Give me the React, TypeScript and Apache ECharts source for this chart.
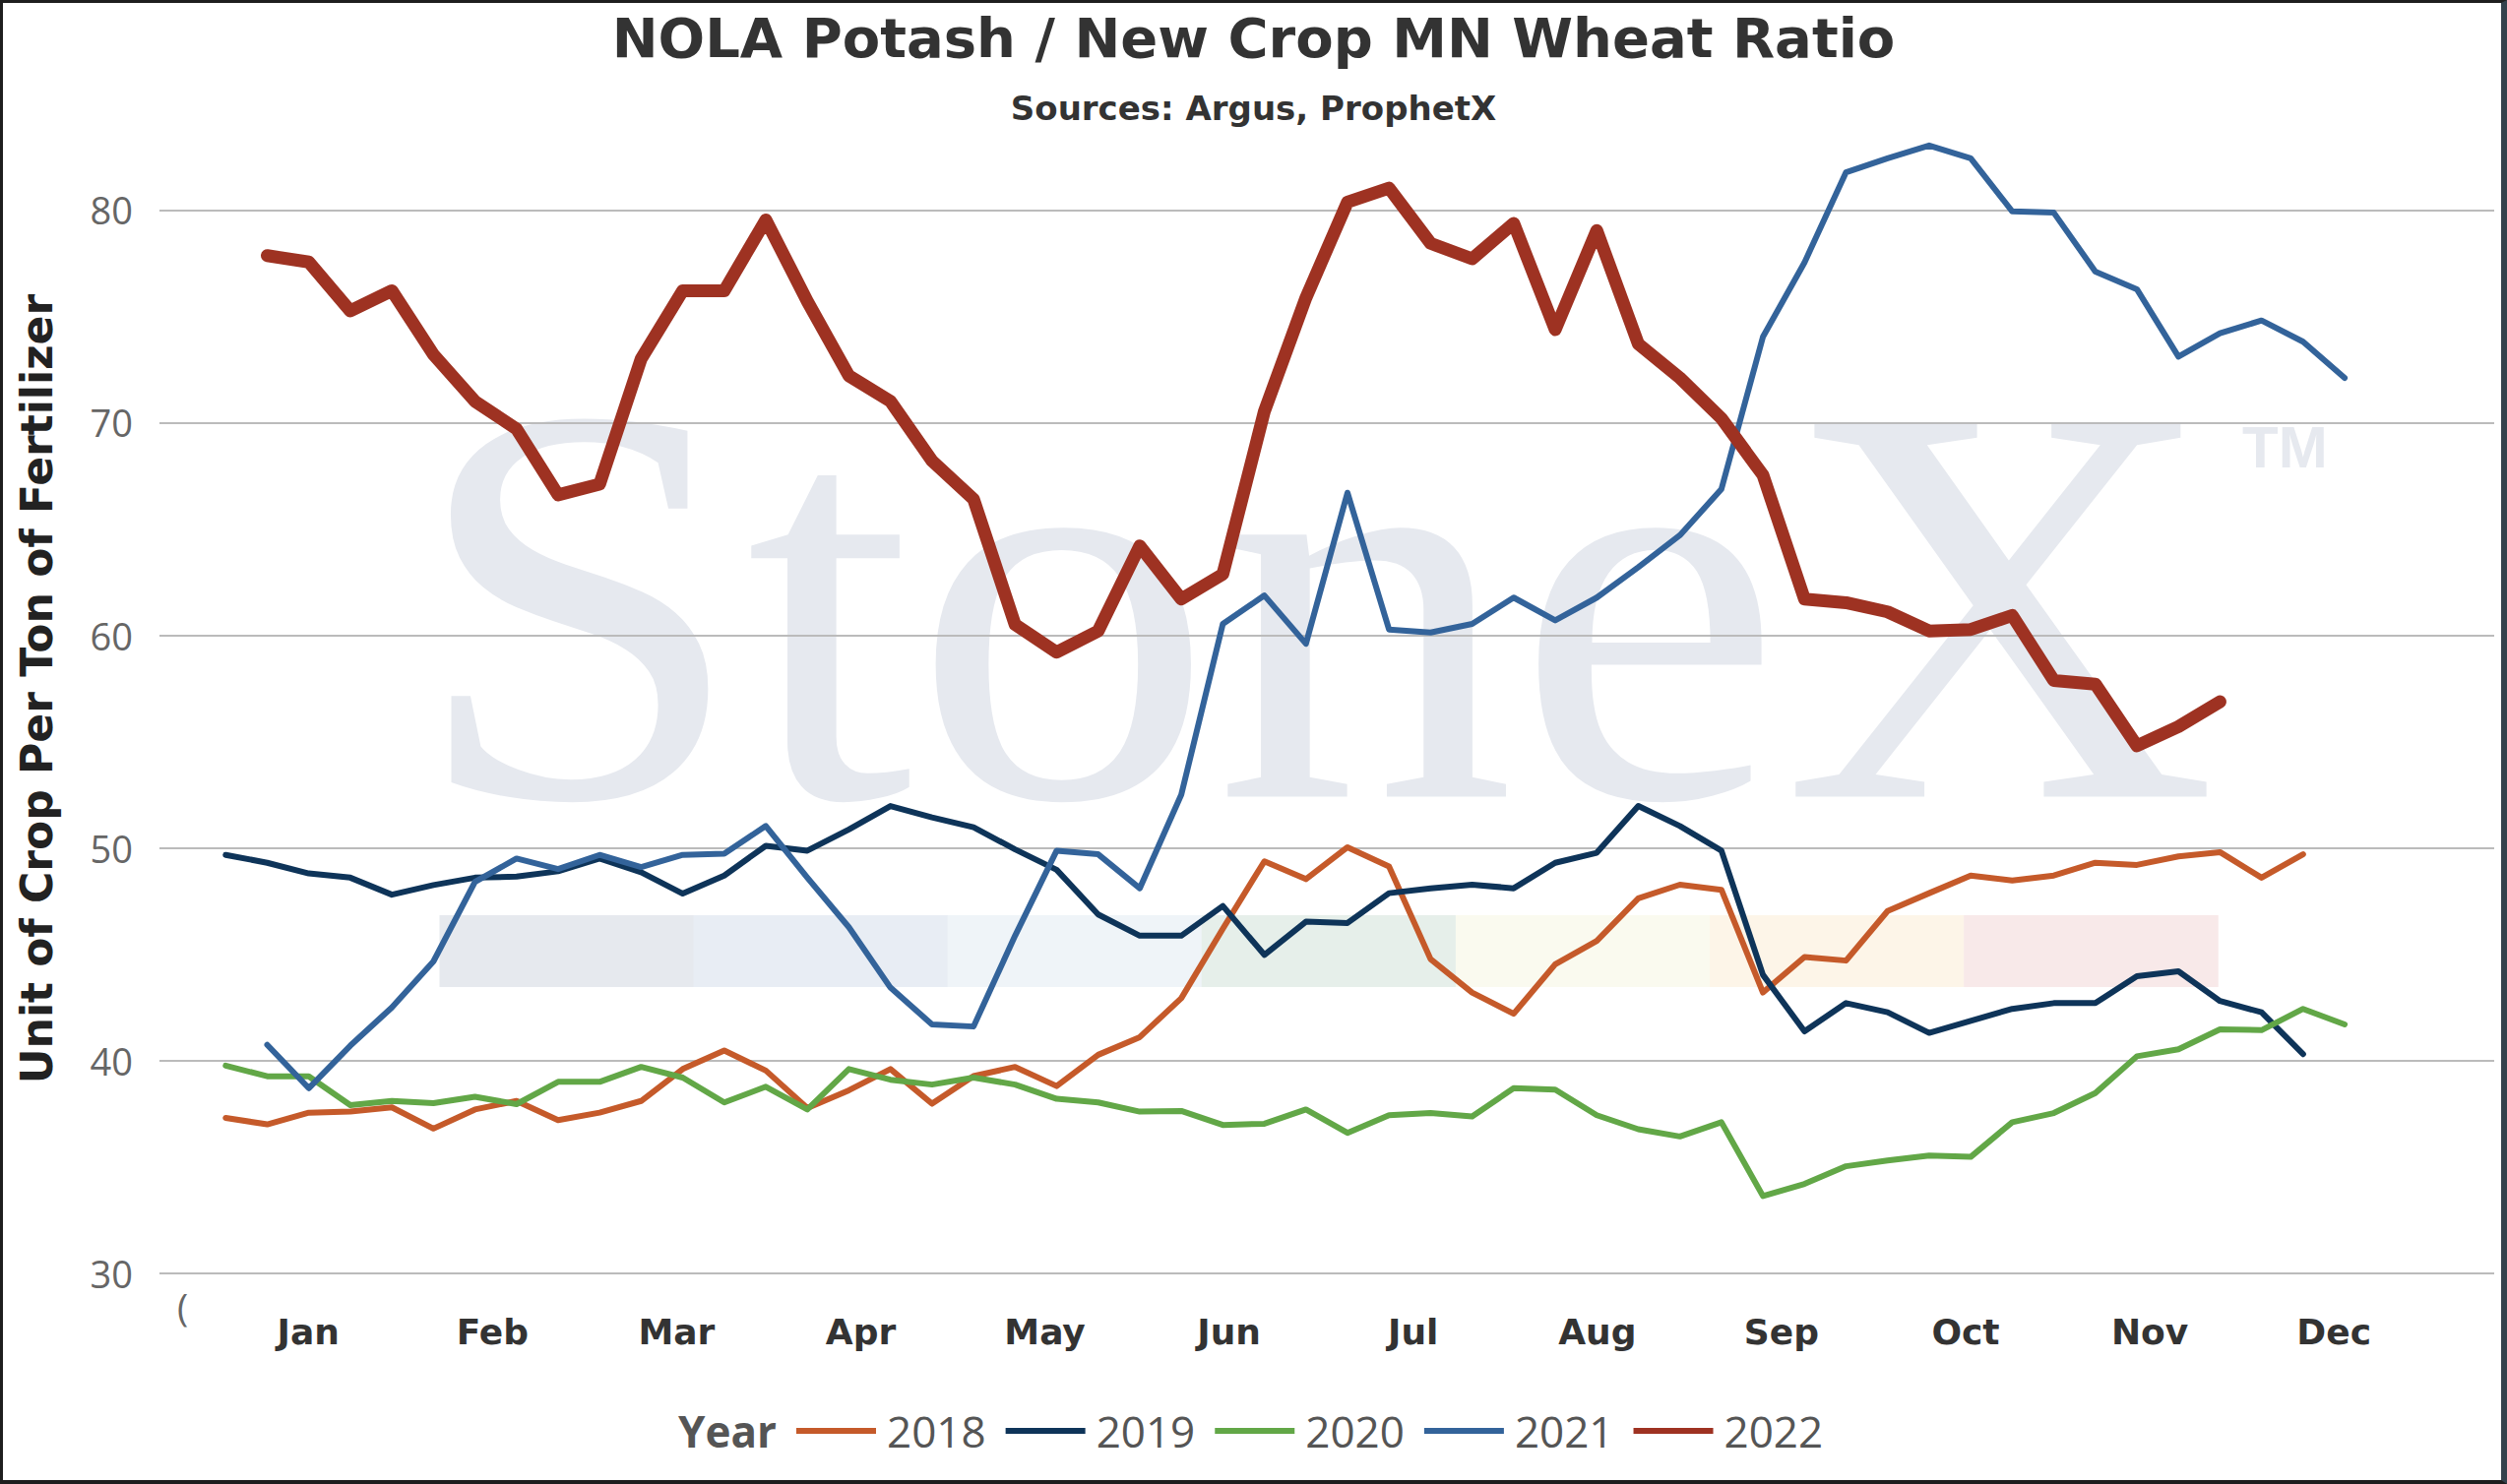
import React, { useEffect, useRef } from "react";
import * as echarts from "echarts";

// ---- data ----
const months = ["Jan", "Feb", "Mar", "Apr", "May", "Jun", "Jul", "Aug", "Sep", "Oct", "Nov", "Dec"];
const years = ["2018", "2019", "2020", "2021", "2022"];
// first week number of each year's series
const startWeek = [1, 1, 1, 2, 2];

const v2018 = [
  37.3, 37.0, 37.55, 37.6, 37.8, 36.8, 37.7, 38.1, 37.2, 37.55,
  38.1, 39.6, 40.47, 39.53, 37.77, 38.6, 39.6, 37.97, 39.27, 39.7,
  38.8, 40.27, 41.1, 42.93, 46.2, 49.37, 48.53, 50.03, 49.13, 44.77,
  43.2, 42.2, 44.53, 45.63, 47.63, 48.27, 48.03, 43.2, 44.87, 44.7,
  47.03, 47.87, 48.7, 48.47, 48.7, 49.3, 49.2, 49.6, 49.8, 48.6,
  49.7,
];
const v2019 = [
  49.67, 49.3, 48.8, 48.6, 47.8, 48.25, 48.6, 48.65, 48.9, 49.5,
  48.85, 47.85, 48.7, 50.1, 49.87, 50.87, 51.97, 51.43, 50.97, 49.93,
  48.97, 46.87, 45.87, 45.87, 47.27, 44.97, 46.53, 46.47, 47.87, 48.1,
  48.27, 48.1, 49.3, 49.77, 51.97, 51.03, 49.87, 44.03, 41.37, 42.7,
  42.27, 41.3, 41.87, 42.43, 42.7, 42.7, 43.97, 44.2, 42.8, 42.27,
  40.3,
];
const v2020 = [
  39.76, 39.26, 39.26, 37.9, 38.1, 38.0, 38.3, 37.95, 39.0, 39.0,
  39.7, 39.2, 38.03, 38.77, 37.7, 39.6, 39.1, 38.87, 39.2, 38.87,
  38.2, 38.03, 37.6, 37.63, 36.97, 37.03, 37.7, 36.6, 37.43, 37.53,
  37.37, 38.7, 38.63, 37.43, 36.77, 36.43, 37.1, 33.63, 34.2, 35.03,
  35.3, 35.53, 35.47, 37.1, 37.53, 38.47, 40.2, 40.53, 41.47, 41.43,
  42.43, 41.7,
];
const v2021 = [
  40.74, 38.7, 40.7, 42.5, 44.66, 48.4, 49.5, 49.0, 49.67, 49.1,
  49.67, 49.73, 51.03, 48.6, 46.27, 43.43, 41.7, 41.6, 45.87, 49.87,
  49.7, 48.1, 52.5, 60.53, 61.87, 59.6, 66.7, 60.27, 60.13, 60.53,
  61.77, 60.7, 61.77, 63.2, 64.7, 66.87, 74.03, 77.53, 81.77, 82.43,
  83.03, 82.43, 79.93, 79.87, 77.1, 76.27, 73.1, 74.2, 74.8, 73.8,
  72.1,
];
const v2022 = [
  77.85, 77.55, 75.25, 76.2, 73.2, 71.0, 69.7, 66.6, 67.1, 73.0,
  76.2, 76.2, 79.53, 75.7, 72.2, 71.0, 68.2, 66.4, 60.5, 59.2,
  60.2, 64.2, 61.7, 62.87, 70.53, 75.87, 80.37, 81.03, 78.43, 77.7,
  79.37, 74.37, 79.03, 73.7, 72.1, 70.2, 67.53, 61.7, 61.53, 61.1,
  60.2, 60.27, 60.93, 57.87, 57.7, 54.8, 55.7, 56.87,
];
const seriesValues = [v2018, v2019, v2020, v2021, v2022];
const yMin = 30;
const yMax = 80;
const yInterval = 10;

// ---- styles ----
const colors = ["#C55A2A", "#0E3459", "#62A747", "#33639A", "#9E3222"];
const lineWidths = [6, 6, 6, 6, 13];
const bandColors = ["#E6E9EE", "#E8EDF4", "#EFF4F8", "#E6EFEA", "#FAFAEF", "#FDF5E8", "#F8E9E9"];
const wmColor = "#E6E9EF";

export default function App() {
  const ref = useRef<HTMLDivElement>(null);

  useEffect(() => {
    document.body.style.margin = "0";
    const chart = echarts.init(ref.current as HTMLDivElement, null, { renderer: "svg" });

    const bandLeft = 446.5;
    const bandW = 258.1;
    const bands = bandColors.map((c, k) => ({
      type: "rect",
      z: -10,
      silent: true,
      shape: { x: bandLeft + k * bandW, y: 930, width: bandW + 0.5, height: 73 },
      style: { fill: c },
    }));

    const option: any = {
      animation: false,
      backgroundColor: "#ffffff",
      title: [
        {
          text: "NOLA Potash / New Crop MN Wheat Ratio",
          left: "center",
          top: 10,
          padding: 0,
          textStyle: { fontFamily: "DejaVu Sans", fontWeight: "bold", fontSize: 56, color: "#333333" },
        },
        {
          text: "Sources: Argus, ProphetX",
          left: "center",
          top: 93,
          padding: 0,
          textStyle: { fontFamily: "DejaVu Sans", fontWeight: "bold", fontSize: 34, color: "#333333" },
        },
      ],
      legend: {
        data: years,
        left: 809,
        top: 1432,
        padding: 0,
        icon: "rect",
        itemWidth: 81,
        itemHeight: 6,
        itemGap: 20,
        textStyle: { fontFamily: "Open Sans", fontSize: 44, color: "#555555", padding: [0, 0, 0, 6] },
      },
      grid: [
        { left: 162, right: 13, top: 213.3, height: 1080.5, containLabel: false },
        { left: 219.7, width: 2245, top: 1292.8, height: 1, containLabel: false },
      ],
      xAxis: [
        {
          type: "value",
          gridIndex: 0,
          min: -0.594,
          max: 55.6,
          axisLine: { show: false },
          axisTick: { show: false },
          axisLabel: { show: false },
          splitLine: { show: false },
        },
        {
          type: "category",
          gridIndex: 1,
          data: months,
          boundaryGap: true,
          axisLine: { show: false },
          axisTick: { show: false },
          splitLine: { show: false },
          axisLabel: {
            interval: 0,
            margin: 42,
            fontFamily: "DejaVu Sans",
            fontWeight: "bold",
            fontSize: 36,
            color: "#333333",
          },
        },
      ],
      yAxis: [
        {
          type: "value",
          gridIndex: 0,
          min: yMin,
          max: yMax,
          interval: yInterval,
          axisLine: { show: false },
          axisTick: { show: false },
          axisLabel: { margin: 27, fontFamily: "Open Sans", fontSize: 38, color: "#666666" },
          splitLine: { show: true, lineStyle: { color: "#BBBBBB", width: 2 } },
        },
        { type: "value", gridIndex: 1, show: false },
      ],
      graphic: [
        {
          type: "text",
          z: -10,
          silent: true,
          x: 417,
          y: 614,
          scaleX: 1.055,
          style: {
            text: "StoneX",
            fontFamily: "Liberation Serif",
            fontSize: 580,
            fill: wmColor,
            textAlign: "left",
            textVerticalAlign: "middle",
          },
        },
        {
          type: "text",
          z: -10,
          silent: true,
          x: 2278,
          y: 454,
          style: {
            text: "TM",
            fontFamily: "Liberation Sans",
            fontWeight: "bold",
            fontSize: 60,
            fill: wmColor,
            textAlign: "left",
            textVerticalAlign: "middle",
          },
        },
        ...bands,
        {
          type: "text",
          x: 37,
          y: 700,
          rotation: Math.PI / 2,
          style: {
            text: "Unit of Crop Per Ton of Fertilizer",
            fontFamily: "DejaVu Sans",
            fontWeight: "bold",
            fontSize: 44,
            fill: "#222222",
            textAlign: "center",
            textVerticalAlign: "middle",
          },
        },
        {
          type: "text",
          x: 789,
          y: 1454,
          style: {
            text: "Year",
            fontFamily: "Open Sans",
            fontWeight: "bold",
            fontSize: 44,
            fill: "#555555",
            textAlign: "right",
            textVerticalAlign: "middle",
          },
        },
        {
          type: "text",
          x: 180,
          y: 1328,
          style: {
            text: "(",
            fontFamily: "Open Sans",
            fontSize: 38,
            fill: "#666666",
            textAlign: "left",
            textVerticalAlign: "middle",
          },
        },
      ],
      series: years.map((name, k) => ({
        name,
        type: "line",
        xAxisIndex: 0,
        yAxisIndex: 0,
        data: seriesValues[k].map((v, j) => [startWeek[k] + j, v]),
        symbol: "none",
        showSymbol: false,
        clip: false,
        z: 2 + k,
        color: colors[k],
        itemStyle: { color: colors[k] },
        lineStyle: { color: colors[k], width: lineWidths[k], cap: "round", join: "round" },
      })),
    };

    chart.setOption(option);
    return () => chart.dispose();
  }, []);

  return (
    <div style={{ position: "relative", width: 2547, height: 1508, background: "#ffffff" }}>
      <div ref={ref} style={{ position: "absolute", left: 0, top: 0, width: 2547, height: 1508 }} />
      <div
        style={{
          position: "absolute",
          left: 0,
          top: 0,
          width: 2547,
          height: 1508,
          boxSizing: "border-box",
          borderStyle: "solid",
          borderColor: "#1e1e1e #34424d #1e1e1e #1e1e1e",
          borderWidth: "3px 6px 4px 3px",
          pointerEvents: "none",
        }}
      />
    </div>
  );
}
